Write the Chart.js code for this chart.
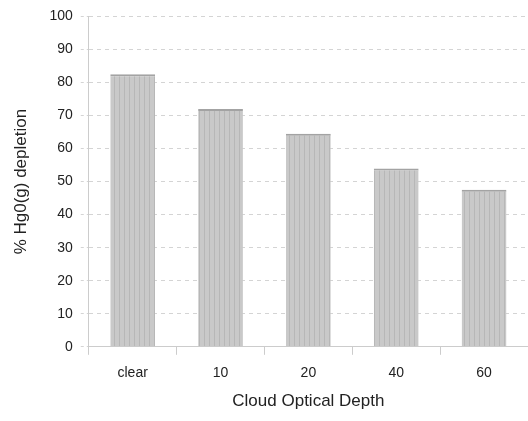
<!DOCTYPE html>
<html>
<head>
<meta charset="utf-8">
<script src="https://cdn.jsdelivr.net/npm/chart.js@4"></script>
<style>
  html, body { margin: 0; padding: 0; background: #fff; }
  #wrap { width: 528px; height: 421px; }
</style>
</head>
<body>
<div id="wrap"><canvas id="depletion_chart"></canvas></div>
<script>
const cloudDepths = ['clear', '10', '20', '40', '60'];
const depletion = [82.5, 72, 64.5, 54, 47.5];
const yTicks = [0, 10, 20, 30, 40, 50, 60, 70, 80, 90, 100];

// vertical striped fill like the printed bars
function stripes() {
    const c = document.createElement('canvas');
    c.width = 5; c.height = 10;
    const g = c.getContext('2d');
    g.fillStyle = '#c9c9c9';
    g.fillRect(0, 0, 5, 10);
    g.fillStyle = '#b7b7b7';
    g.fillRect(4, 0, 1, 10);
    return g.createPattern(c, 'repeat');
}

const font = { family: "'Liberation Sans', Arial, sans-serif", size: 14 };
const titleFont = { family: font.family, size: 17 };

const ctx = document.getElementById('depletion_chart').getContext('2d');

new Chart(ctx, {
    type: 'bar',
    data: {
        labels: cloudDepths,
        datasets: [{
            data: depletion,
            backgroundColor: stripes(),
            borderColor: '#a3a3a3',
            borderWidth: { top: 2, left: 0, right: 0, bottom: 0 },
            borderSkipped: false,
            barPercentage: 0.51,
            categoryPercentage: 1.0,
        }]
    },
    options: {
        responsive: true,
        maintainAspectRatio: false,
        animation: false,
        layout: { padding: { top: 9, right: 0, left: 11, bottom: 9 } },
        plugins: {
            legend: { display: false },
            tooltip: { enabled: false }
        },
        scales: {
            x: {
                grid: {
                    offset: true,
                    drawOnChartArea: false,
                    drawTicks: true,
                    tickLength: 8,
                    color: '#cccccc'
                },
                border: { color: '#cccccc' },
                ticks: { color: '#222', font: font, padding: 10 },
                title: {
                    display: true,
                    text: 'Cloud Optical Depth',
                    color: '#222',
                    font: titleFont,
                    padding: { top: 0, bottom: 0 }
                }
            },
            y: {
                min: 0,
                max: 100,
                afterBuildTicks: function(axis) {
                    axis.ticks = yTicks.map(v => ({ value: v }));
                },
                grid: {
                    color: '#d4d4d4',
                    tickLength: 8,
                    tickBorderDash: [3, 3]
                },
                // in v4 border.dash sets the dash of the grid lines
                border: { color: '#cccccc', dash: [4, 4] },
                ticks: { color: '#222', font: font, padding: 8 },
                title: {
                    display: true,
                    text: '% Hg0(g) depletion',
                    color: '#222',
                    font: titleFont,
                    padding: { top: 0, bottom: 10 }
                }
            }
        }
    }
});
</script>
</body>
</html>
